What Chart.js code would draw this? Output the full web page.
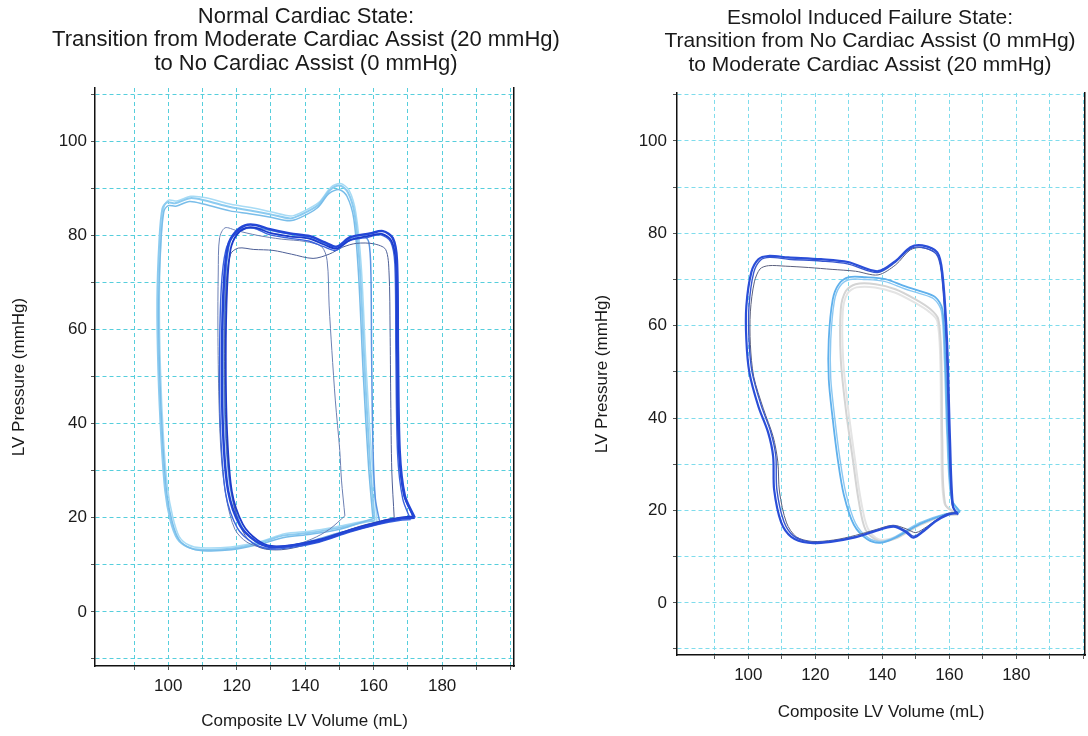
<!DOCTYPE html>
<html>
<head>
<meta charset="utf-8">
<title>PV loops</title>
<script src="https://cdn.jsdelivr.net/npm/chart.js@4.4.1/dist/chart.umd.min.js"></script>
<style>
	html, body { margin: 0; padding: 0; background: #fff; }
	#wrap { position: relative; width: 1088px; height: 736px; overflow: hidden; }
	#wrap canvas { position: absolute; top: 0; }
	#normal { left: 0; }
	#failure { left: 580px; }
</style>
</head>
<body>
<div id="wrap">
	<canvas id="normal" width="612" height="736"></canvas>
	<canvas id="failure" width="580" height="736"></canvas>
</div>
<script>
// tick labels
const volumeTickLabels = [100, 120, 140, 160, 180];
const pressureTickLabels = [0, 20, 40, 60, 80, 100];

// ---- Normal cardiac state: [volume mL, pressure mmHg] ----
// moderate assist (20 mmHg), light blue loops
const normalAssist1 = [[160.3,19.4],[158.9,32],[157.4,51.3],[156,72.6],[154.5,84.3],[152.5,89.1],[150.1,90.6],[147.2,89.6],[143.7,86.4],[138.5,84.3],[135.6,83.6],[129.7,84.5],[123.9,85.3],[118.1,86],[110.8,87.4],[106.4,87.9],[102,86.8],[99.7,87],[98.3,85.7],[97.4,78.9],[96.8,66.2],[97.1,51.3],[98,36.4],[99.1,25.7],[100.6,19.5],[102.6,15.6],[105.6,13.8],[109.3,13.2],[118.1,13.4],[126.8,14.7],[133.5,16.2],[141.4,16.8],[150.1,17.9],[157.4,19.1],[160.3,19.4]];
const normalAssist2 = [[159.8,19.8],[158.5,31],[157,50],[155.6,71.5],[154.2,83.5],[152.2,88.3],[150,89.7],[147,88.9],[143.5,85.8],[138.4,83.7],[135.4,83.1],[129.5,83.9],[123.7,84.6],[118,85.2],[110.6,86.6],[106.2,87.2],[102.2,86.2],[100,86.3],[98.7,85],[97.8,78],[97.2,65],[97.5,50.5],[98.4,36],[99.6,25],[101.2,19],[103.2,15.3],[106.2,13.6],[110,13],[118.5,13.2],[127,14.4],[133.8,15.8],[141.6,16.5],[150.4,17.6],[157.2,19.2],[159.8,19.8]];
const normalAssist3 = [[161,19],[159.4,33],[157.8,52],[156.4,73.2],[154.8,84.8],[152.8,89.6],[150.3,91],[147.5,90.2],[144,87],[138.7,84.8],[135.8,84.1],[129.9,85],[124.1,85.9],[118.3,86.6],[111,88],[106.6,88.3],[102.5,87.3],[100.2,87.5],[98.8,86.2],[97.9,79.5],[97.4,67],[97.7,52],[98.6,37],[99.8,26.3],[101.3,20.2],[103.2,16],[106,14.2],[109.6,13.6],[118.3,13.8],[127.2,15],[134,16.6],[141.8,17.2],[150.6,18.3],[157.8,19.3],[161,19]];
// transition beats
const normalTransition = [[161.8,19],[160.5,24],[159.8,35],[159.4,55],[159.2,72],[158.6,78.5],[157,80],[153,79.3],[149,77.6],[145.5,78.3],[140,79.7],[133,80.6],[126,81.5],[121,81.2],[118.5,79.5],[117.2,75],[116.5,65],[116.3,50],[116.8,37],[118.2,26],[121,18.8],[124.5,15.5],[129,14],[135,14],[143,15.3],[150,16.8],[156,18],[161.8,19]];
const normalThinA = [[151.6,20.4],[150.6,28],[150.1,34.3],[148.8,45],[147.8,55.5],[147,65],[146.4,74.7],[144.8,77.6],[140,78.7],[133,79.2],[126,80],[120,81],[116.6,81.6],[115,79.5],[114.6,72],[114.5,60],[114.8,45],[115.5,33],[117,24],[119.5,17.5],[123,14.8],[128,13.6],[135,13.8],[142,15.5],[147,17.5],[151.6,20.4]];
const normalThinB = [[166,20],[165.3,30],[165,45],[164.8,60],[164.5,72],[163.5,77],[160,78.2],[155,78.3],[151,77.5],[147,76],[142.3,75.1],[136,76],[130.6,76.8],[125,77],[120.5,77.3],[118.2,76],[117,70],[116.5,58],[116.6,45],[117.4,32],[119.4,22],[122.5,16.2],[127,13.6],[133,13.2],[140,14.2],[148,16.2],[156,18.2],[162,19.3],[166,20]];
// no assist (0 mmHg), dark blue loops
const normalNoAssist1 = [[172,20],[169.1,24.7],[167.6,34.3],[167.1,55.5],[166.8,74.7],[165.6,79.4],[162.7,80.9],[158.9,80.4],[153.1,79.6],[149.3,77.6],[145.8,78.5],[141.4,79.8],[135.6,80.4],[129.7,81.3],[125.4,82.2],[122.4,82.1],[119.5,80.6],[117.5,77.9],[116.3,70.4],[115.7,55.5],[116,38.5],[117.5,25.7],[121,18.3],[125.4,15.1],[129.7,13.8],[135.6,14],[144.3,15.1],[153.1,17.2],[161.8,18.9],[167.6,19.8],[172,20]];
const normalNoAssist2 = [[171.5,20.3],[168.8,25],[167.3,35],[166.8,56],[166.5,74],[165.2,78.8],[162.4,80.3],[158.6,79.9],[153,79],[149.2,77.2],[145.6,78],[141.2,79.3],[135.4,79.8],[129.5,80.6],[125.6,81.6],[122.8,81.6],[120,80.1],[118.2,77],[117.2,69],[116.8,54],[117.2,38],[118.6,25.5],[121.8,18.6],[126,15.3],[130.2,14],[136,14.2],[144.5,15.4],[153.4,17.5],[162,19.2],[167.8,20],[171.5,20.3]];
const normalNoAssist3 = [[170.8,19.6],[168.5,24],[167,33.5],[166.5,54.8],[166.2,73.8],[165,78.6],[162.1,80.1],[158.4,79.6],[152.8,78.8],[149,76.8],[145.4,77.6],[141,78.8],[135.2,79.4],[129.3,80.2],[125.1,81.5],[122,81.4],[119,79.8],[116.8,76.8],[115.5,69],[115,54],[115.3,38],[116.8,25],[120.2,17.8],[124.8,14.6],[129.2,13.4],[135.2,13.6],[144,14.8],[152.8,16.9],[161.5,18.6],[167.4,19.4],[170.8,19.6]];

// ---- Esmolol induced failure state ----
// no assist (0 mmHg), dark loops
const failureNoAssist1 = [[162.6,19.1],[161.1,20.8],[160.2,35.4],[159.3,57],[157.9,71.6],[156.4,75.9],[151.9,77.4],[148.4,77],[143.9,74],[138.6,71.8],[129.7,73.8],[121.7,74.4],[111.9,74.8],[105.9,75.1],[103,74.4],[100.9,71.6],[99.4,64.2],[99.4,57],[100.3,49.9],[103,42.5],[105.9,36.9],[107.4,31.7],[107.7,24.5],[109.8,17.4],[112.8,14.3],[117.8,13],[124.6,13.2],[131.5,14.1],[137.4,15.4],[143.3,16.5],[146.9,15.4],[149.3,14.1],[152.8,15.8],[155.8,17.6],[159.6,19.1],[162.6,19.5]];
const failureNoAssist2 = [[162.2,19.3],[160.8,21.5],[159.9,36],[159,57.5],[157.6,71.8],[156,75.6],[151.6,77],[148.2,76.6],[143.8,73.7],[138.5,71.5],[129.6,73.4],[121.6,74],[112,74.4],[106.4,74.8],[103.6,74.2],[101.6,71.5],[100.2,64.2],[100.2,57],[101.1,50],[103.8,42.8],[106.6,37.2],[108.2,31.8],[108.5,24.6],[110.6,17.6],[113.5,14.5],[118.4,13.2],[125,13.4],[131.8,14.3],[137.6,15.6],[143.4,16.7],[147,15.6],[149.5,14.4],[152.9,16.1],[156,17.8],[159.6,19.3],[162.2,19.3]];
const failureNoAssist3 = [[162.4,19.5],[160.9,21],[160,35.5],[159.1,57],[157.7,71.3],[156.2,75.5],[151.8,76.9],[148.3,76.4],[144,73.2],[138.7,71],[132,71.8],[125,72.2],[118,72.6],[111,72.9],[106,73],[103.5,72.3],[101.8,69.5],[100.6,63],[100.6,56],[101.6,49],[104.5,42],[107.4,36],[108.8,30.5],[109.3,24],[111.4,17.3],[114.3,14.3],[119,13.3],[125.5,13.6],[132,14.6],[137.8,15.8],[143.2,16.8],[147.2,16],[150,15.2],[153.3,16.5],[156.2,18],[159.8,19.4],[162.4,19.5]];
// moderate assist (20 mmHg), light blue and grey loops
const failureAssist1 = [[163.2,19.7],[160.8,22.3],[159.6,35.4],[158.8,52.7],[157.9,63.6],[155.8,66.2],[151.3,67.5],[146.9,68.5],[140.9,70.1],[135,70.5],[130,70.5],[127,69],[125.2,65.7],[124,57],[124,48.4],[125.2,39.7],[126.7,31],[128.5,23.4],[131.5,16.9],[135.6,13.7],[139.5,13],[143.9,14.1],[151.3,17.1],[158.8,19.1],[163.2,19.7]];
const failureAssist2 = [[162.8,19.5],[160.5,22.6],[159.3,36],[158.5,53],[157.6,63.2],[155.4,65.8],[151,67],[146.6,68],[140.6,69.6],[134.8,70],[130.2,70],[127.4,68.6],[125.7,65.4],[124.6,57],[124.6,48.6],[125.8,40],[127.3,31.4],[129.1,23.8],[132,17.2],[135.9,14],[139.6,13.3],[143.8,14.3],[151,17.3],[158.5,19.2],[162.8,19.5]];
const failureGrey1 = [[162.6,19.1],[158.8,21.3],[157.9,35.4],[157.6,52.7],[156.7,61.4],[154.3,63.6],[149.9,65.7],[143.9,67.9],[138,69],[132,69],[129.1,67.5],[127.6,63.6],[127.6,52.7],[129.1,41.9],[131.2,31],[132.9,22.3],[135,15.8],[138.9,13.4],[143.9,13.9],[151.3,16.9],[158.8,18.9],[162.6,19.1]];
const failureGrey2 = [[162.3,19.3],[158.5,21.6],[157.6,35.6],[157.3,52.6],[156.4,61],[154,63],[149.7,65],[143.7,67.2],[137.8,68.3],[132.3,68.3],[129.6,67],[128.2,63.2],[128.3,52.6],[129.8,42],[131.8,31.2],[133.5,22.6],[135.6,16.2],[139,13.7],[143.7,14.2],[151,17],[158.5,19],[162.3,19.3]];

const FONT = "'Liberation Sans', Arial, sans-serif";
Chart.defaults.font.family = FONT;
Chart.defaults.color = "#1a1a1a";

function loop(points, color, width) {
	return {
		data: points.map((p) => ({ x: p[0], y: p[1] })),
		showLine: true,
		borderColor: color,
		borderWidth: width,
		pointRadius: 0,
		tension: 0.3,
		fill: false,
	};
}

function buildChart(id, opts) {
	const ctx = document.getElementById(id).getContext("2d");
	return new Chart(ctx, {
		type: "scatter",
		data: { datasets: opts.datasets },
		options: {
			responsive: false,
			animation: false,
			layout: { padding: opts.padding },
			plugins: {
				legend: { display: false },
				tooltip: { enabled: false },
				title: {
					display: true,
					text: opts.title,
					color: "#1a1a1a",
					font: { size: opts.titleSize, weight: "normal", lineHeight: opts.titleLine },
					padding: opts.titlePadding,
				},
			},
			scales: {
				x: {
					type: "linear",
					min: opts.xMin,
					max: opts.xMax,
					afterFit: (s) => { s.height = opts.xHeight; },
					border: { display: true, color: "#111", width: 1.5, dash: [4, 3] },
					grid: { color: opts.gridColor, tickColor: "#555", tickLength: 4 },
					ticks: {
						stepSize: 10,
						includeBounds: false,
						autoSkip: false,
						maxRotation: 0,
						padding: 6,
						font: { size: 17 },
						// no grid line at 80, right next to the axis
						callback: (v) => (v < 90 ? null : volumeTickLabels.includes(v) ? v : ""),
					},
					title: {
						display: true,
						text: "Composite LV Volume (mL)",
						font: { size: 17 },
						padding: { top: 4, bottom: 4 },
					},
				},
				y: {
					type: "linear",
					min: opts.yMin,
					max: opts.yMax,
					afterFit: (s) => { s.width = opts.yWidth; },
					border: { display: true, color: "#111", width: 1.5, dash: [4, 3] },
					grid: { color: opts.gridColor, tickColor: "#555", tickLength: 4 },
					ticks: {
						stepSize: 10,
						includeBounds: false,
						padding: opts.yTickPad,
						font: { size: 17 },
						callback: (v) => (pressureTickLabels.includes(v) ? v : ""),
					},
					title: {
						display: true,
						text: "LV Pressure (mmHg)",
						font: { size: 17 },
						padding: { top: opts.yTitlePad, bottom: 0 },
					},
				},
				// right-hand frame line; its width is the space right of the plot
				yR: {
					type: "linear",
					position: "right",
					afterFit: (s) => { s.width = opts.rightGap; },
					border: { display: true, color: "#111", width: 1.5 },
					grid: { display: false, drawTicks: false },
					ticks: { display: false },
				},
			},
		},
	});
}

buildChart("normal", {
	title: ["Normal Cardiac State:", "Transition from Moderate Cardiac Assist (20 mmHg)", "to No Cardiac Assist (0 mmHg)"],
	titleSize: 22, titleLine: 1.07,
	titlePadding: { top: 5, bottom: 12.4 },
	padding: { left: 0, right: 0, top: 0, bottom: 0 },
	rightGap: 98,
	xMin: 78.6, xMax: 201, xHeight: 70,
	yMin: -11.5, yMax: 111.3, yWidth: 95, yTickPad: 4, yTitlePad: 9,
	gridColor: "#56cedc",
	datasets: [
		loop(normalNoAssist1, "#2346d6", 2.5),
		loop(normalNoAssist2, "#1c3bcb", 1.8),
		loop(normalNoAssist3, "#3a63dd", 1.4),
		loop(normalThinB, "#4d5f96", 1),
		loop(normalThinA, "#6c7fb3", 1),
		loop(normalTransition, "#5a95e2", 1.5),
		loop(normalAssist2, "#79bde9", 1.5),
		loop(normalAssist1, "#8ccbf0", 2),
		loop(normalAssist3, "#a7dbf5", 1.5),
	],
});

buildChart("failure", {
	title: ["Esmolol Induced Failure State:", "Transition from No Cardiac Assist (0 mmHg)", "to Moderate Cardiac Assist (20 mmHg)"],
	titleSize: 21, titleLine: 1.12,
	titlePadding: { top: 6, bottom: 16.4 },
	padding: { left: 0, right: 0, top: 0, bottom: 9 },
	rightGap: 75,
	xMin: 78.7, xMax: 200.5, xHeight: 72,
	yMin: -11.3, yMax: 110.4, yWidth: 97, yTickPad: 6, yTitlePad: 12,
	gridColor: "#7fdcec",
	datasets: [
		loop(failureNoAssist1, "#2a4ed8", 2.2),
		loop(failureNoAssist2, "#3757cf", 1.4),
		loop(failureNoAssist3, "#5a5f7c", 1),
		loop(failureAssist1, "#5fb0ec", 1.8),
		loop(failureAssist2, "#8cc8f2", 1.4),
		loop(failureGrey1, "#d4d4d4", 2),
		loop(failureGrey2, "#e4e4e4", 2),
	],
});
</script>
</body>
</html>
